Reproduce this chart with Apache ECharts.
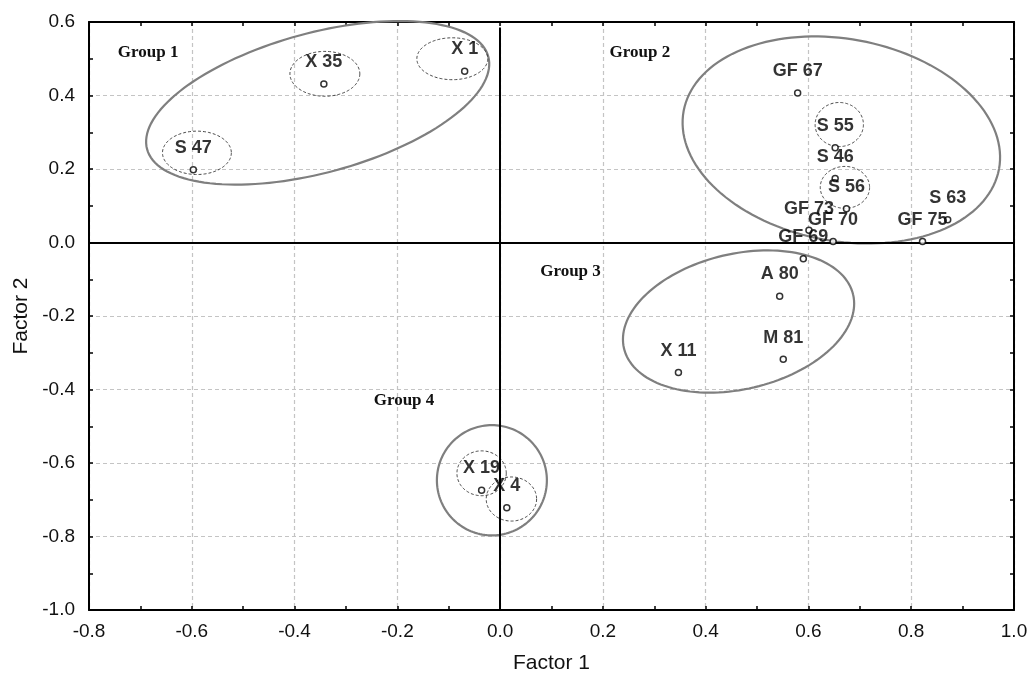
<!DOCTYPE html>
<html>
<head>
<meta charset="utf-8">
<script src="https://cdn.jsdelivr.net/npm/echarts@6/dist/echarts.min.js"></script>
<style>
  html, body { margin: 0; padding: 0; background: #fff; }
  #chart { width: 1032px; height: 679px; }
</style>
</head>
<body>
<div id="chart"></div>
<script>
// Sample scores on the first two factors
const sampleNames = ['S 47', 'X 35', 'X 1', 'GF 67', 'S 55', 'S 46', 'S 56', 'GF 73', 'GF 70',
                     'GF 69', 'GF 75', 'S 63', 'A 80', 'M 81', 'X 11', 'X 19', 'X 4'];
const factor1 = [-0.597, -0.343, -0.069, 0.579, 0.652, 0.652, 0.674, 0.601, 0.648,
                 0.590, 0.822, 0.871, 0.544, 0.551, 0.347, -0.036, 0.013];
const factor2 = [0.198, 0.431, 0.466, 0.407, 0.258, 0.174, 0.092, 0.033, 0.003,
                 -0.044, 0.003, 0.062, -0.146, -0.318, -0.354, -0.674, -0.722];

// Group outlines: centre (factor units), half-axes (x units, y units), tilt in degrees
const groupCx = [-0.355, 0.664, 0.464, -0.016];
const groupCy = [0.380, 0.279, -0.215, -0.647];
const groupA = [0.344, 0.312, 0.229, 0.107];
const groupB = [0.190, 0.275, 0.184, 0.150];
const groupTilt = [15.2, -10.4, 13.2, 0];

// Dashed sub-cluster outlines (axis-aligned)
const subCx = [-0.590, -0.341, -0.093, 0.660, 0.671, -0.036, 0.022];
const subCy = [0.244, 0.459, 0.500, 0.321, 0.150, -0.628, -0.698];
const subA = [0.067, 0.068, 0.069, 0.047, 0.048, 0.048, 0.049];
const subB = [0.059, 0.061, 0.057, 0.060, 0.057, 0.061, 0.060];

// Group captions
const groupNames = ['Group 1', 'Group 2', 'Group 3', 'Group 4'];
const groupLabelX = [-0.685, 0.272, 0.137, -0.187];
const groupLabelY = [0.516, 0.516, -0.078, -0.431];

// Axis ranges and ticks
const xMin = -0.8, xMax = 1.0, yMin = -1.0, yMax = 0.6, step = 0.2;

const points = factor1.map((x, i) => ({ value: [x, factor2[i]], name: sampleNames[i] }));
const groupRows = groupCx.map((c, i) => [c, groupCy[i], groupA[i], groupB[i], groupTilt[i]]);
const subRows = subCx.map((c, i) => [c, subCy[i], subA[i], subB[i], 0]);
const captionRows = groupNames.map((n, i) => [groupLabelX[i], groupLabelY[i], n]);

function ellipseRenderer(style) {
  return function (params, api) {
    const c = api.coord([api.value(0), api.value(1)]);
    const rx = api.size([api.value(2), 0])[0];
    const ry = api.size([0, api.value(3)])[1];
    const t = api.value(4) * Math.PI / 180;
    const pts = [];
    const n = 144;
    for (let k = 0; k <= n; k++) {
      const a = (k / n) * Math.PI * 2;
      const ex = rx * Math.cos(a), ey = ry * Math.sin(a);
      // rotate counter-clockwise on screen (y grows downward)
      pts.push([c[0] + ex * Math.cos(t) + ey * Math.sin(t),
                c[1] - ex * Math.sin(t) + ey * Math.cos(t)]);
    }
    return { type: 'polyline', shape: { points: pts }, style: style, silent: true };
  };
}

const tickFmt = v => (Math.abs(v) < 1e-9 ? 0 : v).toFixed(1);
const axisFont = { fontFamily: 'Liberation Sans, Arial, sans-serif', fontSize: 19, color: '#111' };

function makeAxis(pos, isX, withLabels) {
  const ax = {
    type: 'value',
    position: pos,
    min: isX ? xMin : yMin,
    max: isX ? xMax : yMax,
    interval: step,
    axisLine: { show: true, onZero: false, lineStyle: { color: '#000', width: 2 } },
    axisTick: { show: true, inside: true, length: 4, lineStyle: { color: '#000', width: 1.5 } },
    minorTick: { show: true, splitNumber: 2, length: 4, lineStyle: { color: '#000', width: 1.5 } },
    splitLine: { show: withLabels, lineStyle: { color: '#c4c4c4', width: 1.2, type: [4, 3] } },
    axisLabel: { show: withLabels, formatter: tickFmt, margin: isX ? 12 : 14, ...axisFont }
  };
  if (withLabels) {
    ax.name = isX ? 'Factor 1' : 'Factor 2';
    ax.nameLocation = 'middle';
    ax.nameGap = isX ? 43 : 55;
    ax.nameTextStyle = { fontFamily: 'Liberation Sans, Arial, sans-serif', fontSize: 21, color: '#111' };
  }
  return ax;
}

const chart = echarts.init(document.getElementById('chart'), null, { renderer: 'canvas' });
chart.setOption({
  animation: false,
  backgroundColor: '#fff',
  grid: { left: 89, top: 22, right: 18, bottom: 68 },
  xAxis: [makeAxis('bottom', true, true), makeAxis('top', true, false)],
  yAxis: [makeAxis('left', false, true), makeAxis('right', false, false)],
  series: [
    {
      type: 'custom',
      name: 'groups',
      data: groupRows,
      encode: { x: 0, y: 1 },
      clip: false,
      z: 3,
      renderItem: ellipseRenderer({ fill: null, stroke: '#7f7f7f', lineWidth: 2.2 })
    },
    {
      type: 'custom',
      name: 'clusters',
      data: subRows,
      encode: { x: 0, y: 1 },
      clip: false,
      z: 3,
      renderItem: ellipseRenderer({ fill: null, stroke: '#333', lineWidth: 0.9, lineDash: [3, 2] })
    },
    {
      type: 'custom',
      name: 'captions',
      data: captionRows,
      encode: { x: 0, y: 1 },
      z: 4,
      renderItem: function (params, api) {
        const c = api.coord([api.value(0), api.value(1)]);
        return {
          type: 'text',
          x: c[0], y: c[1],
          style: {
            text: captionRows[params.dataIndex][2],
            fill: '#111',
            font: 'bold 17px "Liberation Serif", "Times New Roman", serif',
            align: 'center',
            verticalAlign: 'middle'
          }
        };
      }
    },
    {
      type: 'scatter',
      name: 'samples',
      data: points,
      symbol: 'circle',
      symbolSize: 6,
      z: 6,
      itemStyle: { color: '#fff', borderColor: '#000', borderWidth: 1.5 },
      label: {
        show: true,
        position: 'top',
        distance: 9,
        formatter: p => p.name,
        fontFamily: 'Liberation Sans, Arial, sans-serif',
        fontWeight: 'bold',
        fontSize: 18,
        color: '#000'
      },
      markLine: {
        silent: true,
        symbol: ['none', 'triangle'],
        symbolSize: [0, 9],
        label: { show: false },
        lineStyle: { color: '#000', width: 2, type: 'solid' },
        emphasis: { disabled: true },
        data: [
          [{ coord: [0, yMin] }, { coord: [0, 0.585] }],
          [{ coord: [xMin, 0] }, { coord: [1.0, 0] }]
        ]
      }
    }
  ]
});
</script>
</body>
</html>
